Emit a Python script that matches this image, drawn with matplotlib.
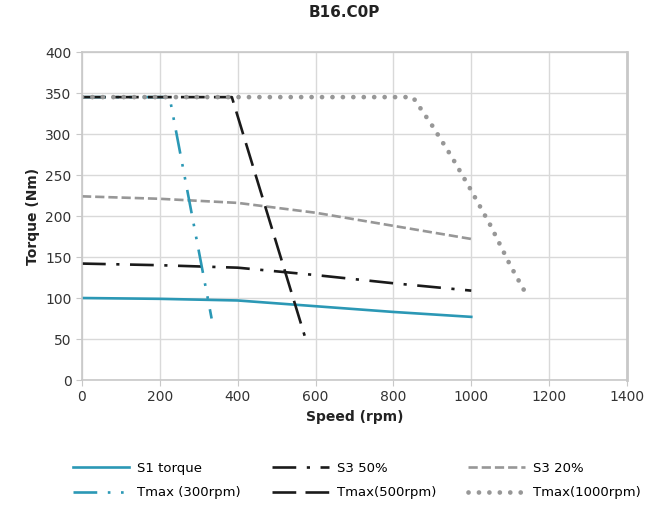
import matplotlib.pyplot as plt
import numpy as np

# data
speed_cont = [0, 200, 400, 600, 800, 1000]
s1_torque = [100, 99, 97, 90, 83, 77]
s3_50 = [142, 140, 137, 128, 118, 109]
s3_20 = [224, 221, 216, 204, 188, 172]

tmax300_x = [0, 225, 333]
tmax300_y = [345, 345, 75]
tmax500_x = [0, 385, 572]
tmax500_y = [345, 345, 54]
tmax1000_x = [0, 850, 900, 950, 1000, 1050, 1100, 1142]
tmax1000_y = [345, 345, 310, 272, 231, 188, 140, 104]

teal = '#2b98b5'
dark = '#1a1a1a'
grey = '#979797'

fig = plt.figure(figsize=(6.59, 5.05), dpi=100)
ax = fig.add_axes([0.1244, 0.2475, 0.8270, 0.6495])

l1, = ax.plot(speed_cont, s1_torque, color=teal, lw=1.9, label='S1 torque')
l2, = ax.plot(speed_cont, s3_50, color=dark, lw=1.9, dashes=(9, 4, 1.2, 4), label='S3 50%')
l3, = ax.plot(speed_cont, s3_20, color=grey, lw=1.9, dashes=(3.5, 1.5), label='S3 20%')
l4, = ax.plot(tmax300_x, tmax300_y, color=teal, lw=1.9,
              dashes=(9, 4, 1.0, 4, 1.0, 4), label='Tmax (300rpm)')
l5, = ax.plot(tmax500_x, tmax500_y, color=dark, lw=1.9, dashes=(9, 3.5), label='Tmax(500rpm)')
l6, = ax.plot(tmax1000_x, tmax1000_y, color=grey, lw=3.4, dashes=(0.01, 2.2),
              dash_capstyle='round', solid_capstyle='round', label='Tmax(1000rpm)')

ax.set_xlim(0, 1400)
ax.set_ylim(0, 400)
ax.set_xticks(np.arange(0, 1401, 200))
ax.set_yticks(np.arange(0, 401, 50))
ax.grid(True, color='#d9d9d9', lw=1.0)
ax.set_axisbelow(True)
for s in ax.spines.values():
    s.set_color('#c8c8c8')
    s.set_linewidth(1.2)
ax.spines['right'].set_linewidth(2.0)
ax.tick_params(length=4, color='#c8c8c8', labelsize=10, labelcolor='#333333')

ax.set_xlabel('Speed (rpm)', fontsize=10, fontweight='bold', color='#222222')
ax.set_ylabel('Torque (Nm)', fontsize=10, fontweight='bold', color='#222222')
fig.text(0.522, 0.99, 'B16.C0P', ha='center', va='top', fontsize=11, fontweight='bold', color='#222222')

handles = [l1, l4, l2, l5, l3, l6]
fig.legend(handles=handles, labels=[h.get_label() for h in handles], ncol=3,
           loc='lower left', bbox_to_anchor=(0.092, -0.012), frameon=False,
           fontsize=9.5, handlelength=4.3, columnspacing=2.4, labelspacing=0.85,
           handletextpad=0.6)

fig.savefig('out.png', dpi=100)
